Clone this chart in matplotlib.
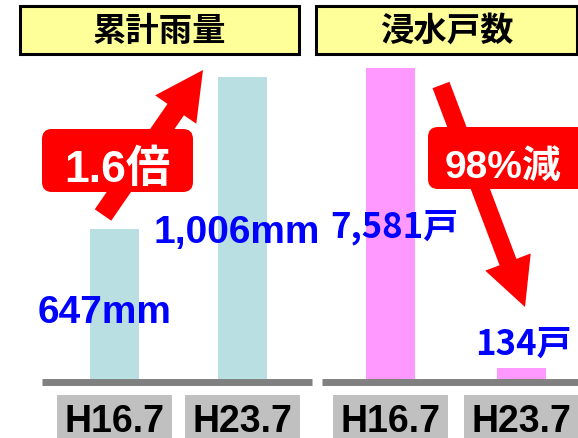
import matplotlib
matplotlib.use('Agg')
import matplotlib.pyplot as plt
import numpy as np
from matplotlib.patches import Rectangle, FancyBboxPatch, FancyArrowPatch, ArrowStyle
from matplotlib.transforms import Affine2D, blended_transform_factory

plt.rcParams['font.family'] = ['Liberation Sans', 'Noto Sans CJK JP']

# data
periods = ['H16.7', 'H23.7']
rain = [647, 1006]
houses = [7581, 134]
rain_labels = ['647mm', '1,006mm']
house_labels = ['7,581戸', '134戸']
titles = ['累計雨量', '浸水戸数']
changes = ['1.6倍', '98%減']

W, H = 578, 439
fig = plt.figure(figsize=(W / 100, H / 100), dpi=100)
# pixel coordinates measured from the top-left corner
pix = Affine2D().scale(1 / W, -1 / H).translate(0, 1) + fig.transFigure

ax1 = fig.add_axes([42 / W, 1 - 380 / H, 270 / W, 320 / H])
ax2 = fig.add_axes([322 / W, 1 - 380 / H, 256 / W, 320 / H])

# the original chart does not start its bars at zero
panels = [
    (ax1, rain, '#b9dfe3', (292.7, 1048.5), (-0.566, 1.543), 0.383),
    (ax2, houses, '#ff99ff', (-139, 7803), (-0.523, 1.431), 0.374),
]
for ax, vals, col, ylim, xlim, bw in panels:
    x = np.arange(len(vals))
    floor = ylim[0]
    ax.bar(x, np.array(vals) - floor, bottom=floor, width=bw, color=col)
    ax.set_ylim(*ylim)
    ax.set_xlim(*xlim)
    ax.set_xticks([])
    ax.set_yticks([])
    for s in ['top', 'left', 'right']:
        ax.spines[s].set_visible(False)
    ax.spines['bottom'].set_color('#808080')
    ax.spines['bottom'].set_linewidth(5.0)
    ax.spines['bottom'].set_capstyle('butt')
    ax.spines['bottom'].set_position(('outward', 2.5))
    ax.patch.set_alpha(0)

    # period labels in grey boxes under each bar
    tr = blended_transform_factory(ax.transData, pix)
    bx = 115 / 128 if ax is ax1 else 115 / 131
    for i, lab in enumerate(periods):
        ax.add_patch(Rectangle((i - bx / 2, 396), bx, 43, transform=tr,
                               facecolor='#c0c0c0', edgecolor='none', clip_on=False))
        ax.text(i, 432, lab, transform=tr, ha='center', va='baseline',
                fontsize=27, fontweight='bold', color='black', clip_on=False)

# title boxes
for (x0, w), t in zip([(20, 279), (316, 261)], titles):
    fig.patches.append(Rectangle((x0, 7), w, 48, transform=pix, facecolor='#ffff99',
                                 edgecolor='black', linewidth=2.2))
    fig.text(x0 + w / 2, 31, t, transform=pix, ha='center', va='center',
             fontsize=24, fontweight='bold', family='Noto Sans CJK JP')

# arrows
fig.patches.append(FancyArrowPatch((103, 216), (203, 71), transform=pix,
                                   arrowstyle=ArrowStyle.Simple(head_length=34.6, head_width=36, tail_width=14.4),
                                   mutation_scale=1, shrinkA=0, shrinkB=0, color='red', lw=0, zorder=2))
fig.patches.append(FancyArrowPatch((441, 86), (525, 308), transform=pix,
                                   arrowstyle=ArrowStyle.Simple(head_length=34.6, head_width=35, tail_width=13),
                                   mutation_scale=1, shrinkA=0, shrinkB=0, color='red', lw=0, zorder=2))

# red callouts
fig.patches.append(FancyBboxPatch((42, 130), 151, 63, transform=pix,
                                  boxstyle='round,pad=0,rounding_size=10',
                                  facecolor='red', edgecolor='none', zorder=2.5))
fig.patches.append(FancyBboxPatch((428, 128), 160, 62, transform=pix,
                                  boxstyle='round,pad=0,rounding_size=10',
                                  facecolor='red', edgecolor='none', zorder=2.5))
fig.text(117.5, 182, changes[0], transform=pix, ha='center', va='baseline',
         fontsize=32, fontweight='bold', color='white')
fig.text(503, 178, changes[1], transform=pix, ha='center', va='baseline',
         fontsize=28, fontweight='bold', color='white')

# value labels
fig.text(105, 323, rain_labels[0], transform=pix, ha='center', va='baseline',
         fontsize=28, fontweight='bold', color='#0000ff')
fig.text(153, 243, rain_labels[1], transform=pix, ha='left', va='baseline',
         fontsize=28, fontweight='bold', color='#0000ff')
fig.text(330, 237, house_labels[0], transform=pix, ha='left', va='baseline',
         fontsize=25, fontweight='bold', color='#0000ff',
         family=['Noto Sans CJK JP', 'Liberation Sans'])
fig.text(523.5, 355, house_labels[1], transform=pix, ha='center', va='baseline',
         fontsize=25, fontweight='bold', color='#0000ff',
         family=['Noto Sans CJK JP', 'Liberation Sans'])

fig.savefig('out.png', dpi=100)
